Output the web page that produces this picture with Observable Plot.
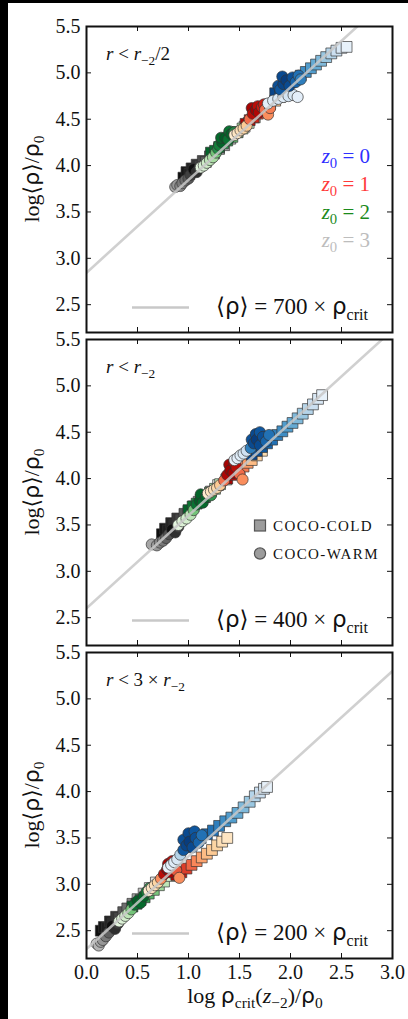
<!DOCTYPE html>
<html>
<head>
<meta charset="utf-8">
<script src="https://cdn.jsdelivr.net/npm/d3@7"></script>
<script src="https://cdn.jsdelivr.net/npm/@observablehq/plot@0.6"></script>
<style>
  html, body { margin: 0; padding: 0; background: #fff; }
  body { position: relative; width: 408px; height: 1019px; overflow: hidden; }
  .strip { position: absolute; background: #000; }
</style>
</head>
<body>
<script>
// ---- axes ----
const xTicks = [0, 0.5, 1, 1.5, 2, 2.5, 3];
const yTicks = [2.5, 3, 3.5, 4, 4.5, 5, 5.5];
const xDomain = [0, 3];
const yDomain = [2.2, 5.5];

// ---- panels: density threshold in units of rho_crit ----
const coefs = [700, 400, 200];
const zLabels = ["0", "1", "2", "3"];
const zTextColors = ["#2f2fff", "#ff3a3a", "#1b8a1b", "#bdbdbd"];
const simNames = ["COCO-COLD", "COCO-WARM"];

// Each point: [log rho_crit(z_-2)/rho_0, log <rho>/rho_0, shade]
// ---------- r < r_-2 / 2 ----------
const p1ColdZ3 = [[0.95,3.87,0.95],[0.98,3.93,0.92],[1.01,3.91,0.9],[1.03,3.97,0.88],[1.06,3.95,0.86],[1.08,4.01,0.83],[1.11,4.00,0.8],[1.14,4.05,0.76],[1.17,4.04,0.72],[1.21,4.10,0.66],[1.25,4.13,0.6],[1.30,4.18,0.52],[1.35,4.22,0.44],[1.41,4.29,0.36],[1.48,4.36,0.28],[1.55,4.42,0.2]];
const p1WarmZ3 = [[0.87,3.77,0.45],[0.89,3.79,0.5],[0.92,3.78,0.55],[0.94,3.81,0.6],[0.97,3.84,0.65],[1.00,3.86,0.72],[1.02,3.90,0.8],[1.05,3.96,0.95],[1.08,3.93,0.85],[1.11,3.98,0.78]];
const p1ColdZ2 = [[1.22,4.14,0.9],[1.26,4.16,0.85],[1.30,4.20,0.8],[1.34,4.24,0.72],[1.38,4.27,0.65],[1.43,4.31,0.55],[1.48,4.36,0.45],[1.53,4.40,0.35],[1.59,4.46,0.25],[1.65,4.52,0.18]];
const p1WarmZ2 = [[1.12,3.98,0.12],[1.15,4.00,0.18],[1.18,4.03,0.22],[1.21,4.06,0.28],[1.24,4.09,0.35],[1.27,4.14,0.5],[1.29,4.18,0.75],[1.30,4.22,0.8],[1.33,4.25,0.9],[1.32,4.30,0.88],[1.36,4.30,0.92],[1.39,4.28,0.85],[1.40,4.37,0.85],[1.42,4.34,0.9],[1.45,4.36,0.75]];
const p1ColdZ1 = [[1.56,4.45,0.9],[1.60,4.49,0.85],[1.64,4.52,0.78],[1.68,4.56,0.7],[1.72,4.59,0.6],[1.76,4.63,0.5],[1.80,4.66,0.4],[1.85,4.70,0.3],[1.90,4.74,0.22],[1.95,4.78,0.15]];
const p1WarmZ1 = [[1.45,4.33,0.1],[1.48,4.35,0.14],[1.51,4.38,0.18],[1.54,4.40,0.24],[1.57,4.43,0.3],[1.60,4.50,0.6],[1.62,4.62,0.9],[1.63,4.56,0.85],[1.66,4.60,0.92],[1.68,4.64,0.85],[1.69,4.57,0.88],[1.72,4.63,0.8],[1.74,4.66,0.8],[1.75,4.60,0.6],[1.78,4.55,0.5],[1.80,4.62,0.55]];
const p1ColdZ0 = [[1.85,4.78,0.92],[1.90,4.82,0.88],[1.95,4.86,0.84],[2.00,4.90,0.8],[2.05,4.93,0.75],[2.10,4.97,0.7],[2.15,5.01,0.64],[2.20,5.05,0.58],[2.25,5.09,0.52],[2.30,5.13,0.45],[2.35,5.17,0.38],[2.40,5.21,0.3],[2.45,5.24,0.22],[2.50,5.27,0.15],[2.55,5.28,0.08]];
const p1WarmZ0 = [[1.78,4.67,0.1],[1.83,4.70,0.12],[1.88,4.72,0.15],[1.93,4.74,0.12],[1.98,4.75,0.18],[2.03,4.76,0.15],[2.07,4.74,0.1],[1.88,4.86,0.88],[1.90,4.82,0.85],[1.93,4.88,0.92],[1.92,4.96,0.9],[1.96,4.92,0.95],[1.99,4.86,0.9],[2.02,4.95,0.88],[2.05,4.90,0.8],[2.08,4.97,0.75],[2.10,4.93,0.7]];

// ---------- r < r_-2 ----------
const p2ColdZ3 = [[0.74,3.40,0.95],[0.77,3.46,0.92],[0.80,3.44,0.9],[0.83,3.52,0.88],[0.86,3.50,0.85],[0.89,3.57,0.82],[0.92,3.56,0.78],[0.96,3.62,0.72],[1.00,3.65,0.65],[1.05,3.70,0.56],[1.10,3.75,0.46],[1.16,3.80,0.36],[1.22,3.86,0.28],[1.29,3.93,0.2]];
const p2WarmZ3 = [[0.64,3.29,0.45],[0.69,3.28,0.5],[0.72,3.31,0.55],[0.75,3.33,0.6],[0.78,3.36,0.68],[0.81,3.40,0.75],[0.84,3.45,0.95],[0.87,3.42,0.85],[0.90,3.48,0.8]];
const p2ColdZ2 = [[1.00,3.66,0.9],[1.04,3.70,0.84],[1.08,3.73,0.76],[1.12,3.77,0.68],[1.16,3.80,0.58],[1.21,3.85,0.48],[1.26,3.89,0.38],[1.31,3.94,0.28],[1.37,3.99,0.2]];
const p2WarmZ2 = [[0.90,3.50,0.12],[0.94,3.54,0.16],[0.98,3.57,0.2],[1.02,3.61,0.28],[1.05,3.66,0.5],[1.08,3.72,0.85],[1.11,3.76,0.92],[1.12,3.83,0.9],[1.14,3.74,0.88],[1.17,3.80,0.9],[1.20,3.85,0.8],[1.22,3.82,0.7]];
const p2ColdZ1 = [[1.38,4.00,0.9],[1.42,4.04,0.84],[1.46,4.07,0.76],[1.50,4.10,0.66],[1.54,4.13,0.56],[1.58,4.17,0.46],[1.62,4.20,0.36],[1.67,4.25,0.28],[1.72,4.30,0.2]];
const p2WarmZ1 = [[1.19,3.84,0.1],[1.22,3.86,0.14],[1.25,3.88,0.18],[1.28,3.90,0.22],[1.31,3.93,0.3],[1.35,3.98,0.6],[1.38,4.04,0.88],[1.40,4.15,0.9],[1.41,4.09,0.92],[1.44,4.06,0.9],[1.45,4.17,0.85],[1.47,4.12,0.85],[1.50,4.05,0.6],[1.53,3.99,0.5]];
const p2ColdZ0 = [[1.62,4.26,0.92],[1.67,4.30,0.88],[1.72,4.34,0.84],[1.77,4.38,0.8],[1.82,4.42,0.75],[1.87,4.47,0.7],[1.92,4.51,0.64],[1.97,4.56,0.58],[2.02,4.60,0.52],[2.07,4.65,0.45],[2.12,4.70,0.38],[2.17,4.75,0.3],[2.22,4.80,0.22],[2.27,4.86,0.15],[2.31,4.90,0.08]];
const p2WarmZ0 = [[1.45,4.20,0.08],[1.48,4.22,0.1],[1.51,4.25,0.12],[1.54,4.27,0.15],[1.57,4.30,0.2],[1.61,4.33,0.7],[1.62,4.42,0.88],[1.64,4.38,0.9],[1.66,4.48,0.9],[1.67,4.42,0.95],[1.70,4.36,0.9],[1.70,4.50,0.85],[1.73,4.45,0.88],[1.76,4.40,0.8],[1.79,4.47,0.75]];

// ---------- r < 3 r_-2 ----------
const p3ColdZ3 = [[0.14,2.50,0.95],[0.17,2.54,0.92],[0.20,2.53,0.9],[0.23,2.60,0.88],[0.26,2.58,0.85],[0.29,2.65,0.82],[0.32,2.64,0.78],[0.36,2.70,0.72],[0.40,2.74,0.65],[0.45,2.79,0.56],[0.50,2.84,0.46],[0.56,2.90,0.36],[0.62,2.96,0.28],[0.68,3.02,0.2]];
const p3WarmZ3 = [[0.10,2.36,0.35],[0.12,2.34,0.4],[0.14,2.38,0.45],[0.16,2.40,0.5],[0.19,2.44,0.6],[0.22,2.48,0.7],[0.25,2.55,0.95],[0.28,2.52,0.85],[0.31,2.58,0.8]];
const p3ColdZ2 = [[0.45,2.76,0.9],[0.49,2.79,0.84],[0.53,2.83,0.76],[0.57,2.86,0.68],[0.61,2.90,0.58],[0.66,2.94,0.48],[0.71,2.99,0.38],[0.76,3.03,0.28],[0.82,3.09,0.2]];
const p3WarmZ2 = [[0.32,2.60,0.12],[0.35,2.63,0.16],[0.38,2.66,0.2],[0.41,2.69,0.28],[0.44,2.73,0.5],[0.47,2.78,0.85],[0.50,2.82,0.92],[0.53,2.80,0.88],[0.56,2.87,0.9],[0.59,2.92,0.8],[0.62,2.96,0.7]];
const p3ColdZ1 = [[0.88,3.10,0.9],[0.93,3.13,0.82],[0.98,3.17,0.72],[1.03,3.21,0.62],[1.08,3.25,0.52],[1.13,3.29,0.44],[1.18,3.33,0.36],[1.23,3.37,0.3],[1.28,3.42,0.24],[1.33,3.46,0.18],[1.38,3.50,0.14]];
const p3WarmZ1 = [[0.61,2.93,0.1],[0.64,2.96,0.14],[0.67,2.99,0.18],[0.70,3.02,0.24],[0.73,3.06,0.5],[0.76,3.11,0.85],[0.79,3.16,0.92],[0.80,3.22,0.9],[0.82,3.13,0.9],[0.84,3.25,0.85],[0.85,3.19,0.85],[0.88,3.15,0.65],[0.91,3.07,0.5]];
const p3ColdZ0 = [[1.00,3.40,0.92],[1.06,3.45,0.88],[1.12,3.50,0.84],[1.18,3.54,0.8],[1.24,3.58,0.75],[1.30,3.63,0.7],[1.36,3.68,0.64],[1.42,3.72,0.58],[1.48,3.77,0.52],[1.54,3.83,0.45],[1.60,3.89,0.38],[1.65,3.95,0.3],[1.70,3.99,0.22],[1.74,4.03,0.15],[1.77,4.05,0.08]];
const p3WarmZ0 = [[0.80,3.18,0.08],[0.83,3.21,0.1],[0.86,3.24,0.12],[0.89,3.27,0.15],[0.92,3.32,0.3],[0.95,3.37,0.85],[0.95,3.48,0.88],[0.98,3.42,0.92],[1.00,3.55,0.9],[1.01,3.46,0.95],[1.04,3.40,0.9],[1.06,3.57,0.85],[1.07,3.50,0.88],[1.10,3.45,0.8],[1.13,3.53,0.75]];

// colour map per initial redshift z0 = 0, 1, 2, 3
const cmaps = [d3.interpolateBlues, d3.interpolateOrRd, d3.interpolateGreens, d3.interpolateGreys];

const panels = [
  {top: 25.7, coef: coefs[0], cold: [p1ColdZ0, p1ColdZ1, p1ColdZ2, p1ColdZ3], warm: [p1WarmZ0, p1WarmZ1, p1WarmZ2, p1WarmZ3],
   region: [["r","i"],[" < ",""],["r","i"],["−2","sub"],["/2",""]], zLegend: true},
  {top: 338.6, coef: coefs[1], cold: [p2ColdZ0, p2ColdZ1, p2ColdZ2, p2ColdZ3], warm: [p2WarmZ0, p2WarmZ1, p2WarmZ2, p2WarmZ3],
   region: [["r","i"],[" < ",""],["r","i"],["−2","sub"]], simLegend: true},
  {top: 651.6, coef: coefs[2], cold: [p3ColdZ0, p3ColdZ1, p3ColdZ2, p3ColdZ3], warm: [p3WarmZ0, p3WarmZ1, p3WarmZ2, p3WarmZ3],
   region: [["r","i"],[" < 3 × ",""],["r","i"],["−2","sub"]], xAxis: true}
];

const W = 408, ML = 86, MR = 16, PH = 306, MT = 12;
const lineColor = "#c8c8c8";
const serif = "'Liberation Serif', 'Times New Roman', serif";
const greek = "'DejaVu Sans', sans-serif";

// text with italic / greek / subscript runs
function addRich(svg, x, y, parts, o) {
  const size = o.size;
  const t = svg.append("text").attr("x", x).attr("y", y)
    .style("font-size", size + "px").style("font-family", serif)
    .attr("fill", o.fill || "#111").attr("text-anchor", o.anchor || "start");
  if (o.rotate) t.attr("transform", `rotate(-90 ${x} ${y})`);
  let shift = 0;
  for (const [s, k] of parts) {
    const ts = t.append("tspan").text(s);
    const sub = k === "sub";
    if (k === "i") ts.style("font-style", "italic");
    if (k === "g") ts.style("font-family", greek);
    const want = sub ? size * 0.24 : 0;
    if (sub) ts.style("font-size", (size * 0.7) + "px");
    if (want !== shift) ts.attr("dy", want - shift);
    shift = want;
  }
  return t;
}

panels.forEach((p) => {
  const MB = p.xAxis ? 62 : 12;
  const relLine = xDomain.map(x => ({x, y: x + Math.log10(p.coef)}));
  const marks = [];
  // squares: COCO-COLD
  [3, 2, 1, 0].forEach(z => {
    marks.push(Plot.dot(p.cold[z], {x: d => d[0], y: d => d[1], symbol: "square", r: 6.1,
      fill: d => cmaps[z](d[2]), stroke: "#333", strokeWidth: 0.8, strokeOpacity: 0.85}));
  });
  // circles: COCO-WARM
  [3, 2, 1, 0].forEach(z => {
    marks.push(Plot.dot(p.warm[z], {x: d => d[0], y: d => d[1], symbol: "circle", r: 5.6,
      fill: d => cmaps[z](d[2]), stroke: "#333", strokeWidth: 0.8, strokeOpacity: 0.85}));
  });
  marks.push(Plot.line(relLine, {x: "x", y: "y", stroke: lineColor, strokeWidth: 2.6, strokeOpacity: 0.85, clip: true}));
  // inward ticks on all four sides
  marks.push(Plot.tickX(xTicks, {x: d => d, insetTop: PH - 5, stroke: "#111", strokeWidth: 1}));
  marks.push(Plot.tickX(xTicks, {x: d => d, insetBottom: PH - 5, stroke: "#111", strokeWidth: 1}));
  marks.push(Plot.tickY(yTicks, {y: d => d, insetRight: (W - ML - MR) - 5, stroke: "#111", strokeWidth: 1}));
  marks.push(Plot.tickY(yTicks, {y: d => d, insetLeft: (W - ML - MR) - 5, stroke: "#111", strokeWidth: 1}));
  marks.push(Plot.frame({stroke: "#111", strokeWidth: 2}));
  marks.push(Plot.axisY(yTicks, {tickSize: 0, tickPadding: 6, tickFormat: ".1f", label: null, fill: "#111"}));
  if (p.xAxis) marks.push(Plot.axisX(xTicks, {tickSize: 0, tickPadding: 6, tickFormat: ".1f", label: null, fill: "#111"}));

  const chart = Plot.plot({
    width: W, height: MT + PH + MB,
    marginLeft: ML, marginRight: MR, marginTop: MT, marginBottom: MB,
    x: {domain: xDomain, axis: p.xAxis ? undefined : null},
    y: {domain: yDomain},
    style: {fontFamily: serif, fontSize: "20px", background: "transparent", overflow: "visible", color: "#111"},
    marks
  });
  const svgTop = p.top - MT;
  chart.style.position = "absolute";
  chart.style.left = "0px";
  chart.style.top = svgTop + "px";
  document.body.appendChild(chart);

  const svg = d3.select(chart);
  const T = MT; // plot top in svg coordinates

  // aperture label
  addRich(svg, 106, T + 34, p.region, {size: 19});

  // density relation legend
  svg.append("line").attr("x1", 132).attr("x2", 189).attr("y1", T + 281.5).attr("y2", T + 281.5)
    .attr("stroke", lineColor).attr("stroke-width", 2.6);
  addRich(svg, 368, T + 288,
    [["⟨","g"],["ρ","g"],["⟩","g"],[` = ${p.coef} × `,""],["ρ","g"],["crit","sub"]],
    {size: 23, anchor: "end"});

  // y label
  addRich(svg, 39, T + PH / 2, [["log",""],["⟨ρ⟩","g"],["/",""],["ρ","g"],["0","sub"]],
    {size: 22, anchor: "middle", rotate: true});

  if (p.zLegend) {
    zLabels.forEach((z, i) => {
      addRich(svg, 370, T + 137 + 28 * i, [["z","i"],["0","sub"],[` = ${z}`,""]],
        {size: 21, anchor: "end", fill: zTextColors[i]});
    });
  }
  if (p.simLegend) {
    const g = svg.append("g").attr("text-anchor", "start");
    g.append("rect").attr("x", 254.5).attr("y", T + 181).attr("width", 11).attr("height", 11)
      .attr("fill", "#9c9c9c").attr("stroke", "#555").attr("stroke-width", 1.2);
    g.append("circle").attr("cx", 260).attr("cy", T + 214.5).attr("r", 5.6)
      .attr("fill", "#9c9c9c").attr("stroke", "#555").attr("stroke-width", 1.2);
    simNames.forEach((name, i) => {
      g.append("text").attr("x", 273).attr("y", T + 192 + 28 * i).attr("text-anchor", "start")
        .style("font-size", "15px").style("font-family", serif).style("letter-spacing", "1.4px")
        .attr("fill", "#111").text(name);
    });
  }
  if (p.xAxis) {
    addRich(svg, 255, T + PH + 45,
      [["log ",""],["ρ","g"],["crit","sub"],["(",""],["z","i"],["−2","sub"],[")/",""],["ρ","g"],["0","sub"]],
      {size: 22, anchor: "middle"});
  }
});

// dark border strips along the top and left edges
const left = document.createElement("div");
left.className = "strip";
Object.assign(left.style, {left: "0px", top: "0px", width: "8px", height: "1019px"});
document.body.appendChild(left);
const topStrip = document.createElement("div");
topStrip.className = "strip";
Object.assign(topStrip.style, {left: "0px", top: "0px", width: "408px", height: "3px"});
document.body.appendChild(topStrip);
</script>
</body>
</html>
